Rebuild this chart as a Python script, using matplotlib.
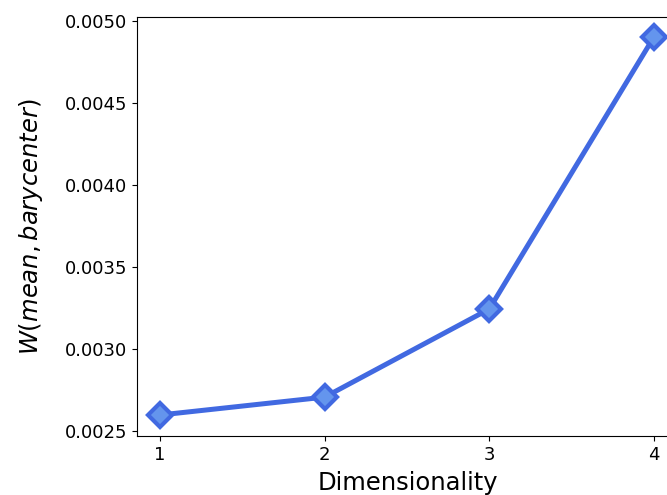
import matplotlib
matplotlib.use("Agg")
import matplotlib.pyplot as plt

dims = [1, 2, 3, 4]
w_dist = [0.002598, 0.002707, 0.003244, 0.004902]
y_ticks = [0.0025, 0.0030, 0.0035, 0.0040, 0.0045, 0.0050]

fig = plt.figure(figsize=(6.67, 4.95), dpi=100)
ax = fig.add_axes([0.2054, 0.1192, 0.812, 0.8465])

ax.plot(dims, w_dist, color="royalblue", linewidth=3.6, marker="D",
        markersize=12, markerfacecolor="cornflowerblue",
        markeredgecolor="royalblue", markeredgewidth=3)

ax.set_xlim(0.86, 4.15)
ax.set_ylim(0.00247, 0.005024)
ax.set_xticks(dims)
ax.set_yticks(y_ticks)
ax.set_yticklabels([f"{v:.4f}" for v in y_ticks])
ax.tick_params(labelsize=13)
ax.set_xlabel("Dimensionality", fontsize=17.5, labelpad=5)
ax.set_ylabel(r"$W(mean, barycenter)$", fontsize=17.5, labelpad=14)

fig.savefig("out.png", dpi=100)
